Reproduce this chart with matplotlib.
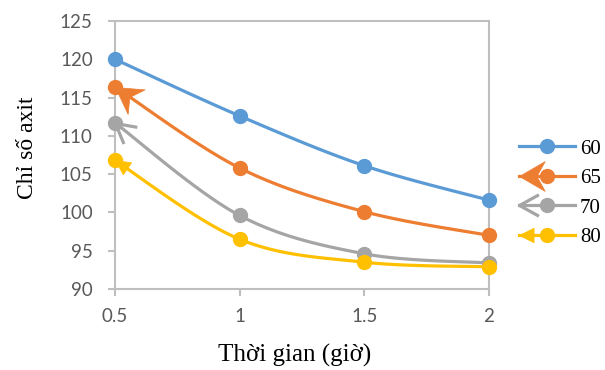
import numpy as np
import matplotlib
matplotlib.use("Agg")
import matplotlib.pyplot as plt
from matplotlib.path import Path
from matplotlib.markers import MarkerStyle
from matplotlib.transforms import Affine2D
from matplotlib.lines import Line2D
from matplotlib.legend_handler import HandlerLine2D

# ---------------- data ----------------
hours = [0.5, 1.0, 1.5, 2.0]
labels = ["60", "65", "70", "80"]
acid_60 = [120.0, 112.6, 106.1, 101.6]
acid_65 = [116.4, 105.8, 100.1, 97.0]
acid_70 = [111.7, 99.6, 94.6, 93.4]
acid_80 = [106.8, 96.5, 93.5, 92.9]
series = [acid_60, acid_65, acid_70, acid_80]

colors = ["#5B9BD5", "#ED7D31", "#A5A5A5", "#FFC000"]
arrow_kinds = [None, "stealth", "open", "triangle"]
arrow_sizes = {"stealth": 37, "open": 28, "triangle": 21}

TICK_FONT = "Lato"
SERIF = "Liberation Serif"
N_SEG = 40


def smooth(xs, ys, n=N_SEG):
    """Catmull-Rom style Bezier smoothing (Excel-like)."""
    xs = np.asarray(xs, float); ys = np.asarray(ys, float)
    P = np.column_stack([xs, ys])
    Pe = np.vstack([P[0], P, P[-1]])
    out = []
    t = np.linspace(0, 1, n)[:, None]
    for i in range(len(P) - 1):
        p0, p1, p2, p3 = Pe[i], Pe[i + 1], Pe[i + 2], Pe[i + 3]
        c1 = p1 + (p2 - p0) / 6.0
        c2 = p2 - (p3 - p1) / 6.0
        seg = ((1 - t) ** 3) * p1 + 3 * ((1 - t) ** 2) * t * c1 + 3 * (1 - t) * t ** 2 * c2 + t ** 3 * p2
        out.append(seg if i == 0 else seg[1:])
    out = np.vstack(out)
    return out[:, 0], out[:, 1]


def arrow_path(kind):
    # tip at origin, body along +x (so it points to -x)
    if kind == "stealth":
        verts = [(0, 0), (1, 0.58), (0.68, 0), (1, -0.58), (0, 0)]
        codes = [Path.MOVETO, Path.LINETO, Path.LINETO, Path.LINETO, Path.CLOSEPOLY]
    elif kind == "open":
        verts = [(1, 0.55), (0, 0), (1, -0.55)]
        codes = [Path.MOVETO, Path.LINETO, Path.LINETO]
    else:
        verts = [(0, 0), (1, 0.5), (1, -0.5), (0, 0)]
        codes = [Path.MOVETO, Path.LINETO, Path.LINETO, Path.CLOSEPOLY]
    return Path(verts, codes)


def arrow_line(kind, color, x, y, angle_deg, transform=None):
    ms = MarkerStyle(arrow_path(kind), transform=Affine2D().rotate_deg(angle_deg))
    kw = dict(marker=ms, markersize=arrow_sizes[kind], linestyle="none")
    if kind == "open":
        kw.update(markerfacecolor="none", markeredgecolor=color, markeredgewidth=2.3)
    else:
        kw.update(markerfacecolor=color, markeredgecolor=color, markeredgewidth=0.5)
    ln = Line2D([x], [y], **kw)
    if transform is not None:
        ln.set_transform(transform)
    return ln


class ArrowHandler(HandlerLine2D):
    def __init__(self, kind, color, **kw):
        super().__init__(**kw)
        self.kind = kind
        self.color = color

    def create_artists(self, legend, orig_handle, xdescent, ydescent, width, height, fontsize, trans):
        artists = super().create_artists(legend, orig_handle, xdescent, ydescent, width, height, fontsize, trans)
        if self.kind:
            y = (height - ydescent) / 2.0
            artists.append(arrow_line(self.kind, self.color, -xdescent, y, 0.0, transform=trans))
        return artists


fig = plt.figure(figsize=(6.05, 3.70), dpi=100)
ax = fig.add_axes([115 / 605, 1 - 289 / 370, 374 / 605, 268 / 370])
ax.set_xlim(0.5, 2.0)
ax.set_ylim(90, 125)

handles = []
handler_map = {}
for vals, lab, col, kind in zip(series, labels, colors, arrow_kinds):
    sx, sy = smooth(hours, vals)
    ax.plot(sx, sy, color=col, lw=2.3, solid_capstyle="round", clip_on=False, zorder=3)
    ax.plot(hours, vals, "o", color=col, ms=10, clip_on=False, zorder=4)
    if kind:
        pts = ax.transData.transform(np.column_stack([sx, sy]))
        d = pts[N_SEG // 2] - pts[0]
        ang = np.degrees(np.arctan2(d[1], d[0]))
        a = arrow_line(kind, col, hours[0], vals[0], ang)
        a.set_clip_on(False); a.set_zorder(5)
        ax.add_line(a)
    h = Line2D([], [], color=col, lw=2.3, marker="o", ms=10)
    handles.append(h)
    handler_map[h] = ArrowHandler(kind, col)

ax.set_xticks(hours)
ax.set_xticklabels(["0.5", "1", "1.5", "2"])
ax.set_yticks(np.arange(90, 126, 5))
for sp in ax.spines.values():
    sp.set_color("#BFBFBF")
    sp.set_linewidth(1.5)
ax.tick_params(axis="both", direction="out", length=5, width=1.5, color="#BFBFBF",
               labelcolor="#595959", labelsize=13.5)
ax.tick_params(axis="y", pad=11)
ax.tick_params(axis="x", pad=9)
for t in ax.get_xticklabels() + ax.get_yticklabels():
    t.set_fontfamily(TICK_FONT)

ax.set_xlabel("Thời gian (giờ)", fontfamily=SERIF, fontsize=18)
ax.set_ylabel("Chỉ số axit", fontfamily=SERIF, fontsize=17)
ax.xaxis.set_label_coords(0.479, -0.205)
ax.yaxis.set_label_coords(-0.205, 0.526)

leg = fig.legend(handles, labels, handler_map=handler_map, loc="center left",
                 bbox_to_anchor=(519 / 605, 0.478), frameon=False, handlelength=2.68,
                 handletextpad=0.25, labelspacing=0.48, borderpad=0, borderaxespad=0,
                 prop={"family": SERIF, "size": 15})

fig.savefig("out.png", dpi=100)
